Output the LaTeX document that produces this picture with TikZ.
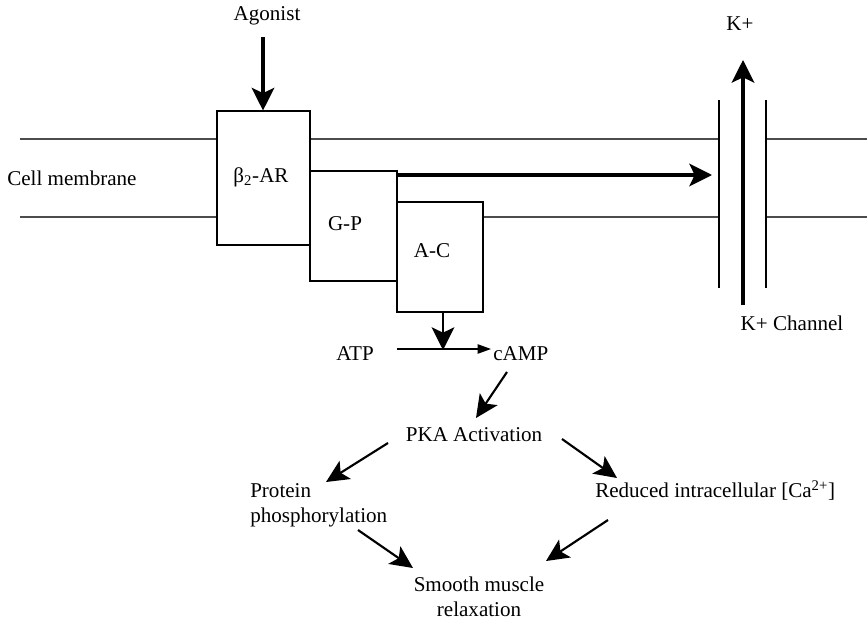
\documentclass[tikz,border=0pt]{standalone}
\usepackage{fontspec}
\setmainfont{Liberation Serif}
\usetikzlibrary{arrows.meta}
\begin{document}
\begin{tikzpicture}[x=0.75pt,y=-0.75pt,
  txt/.style={inner sep=0pt, font=\fontsize{15.8}{18.8}\selectfont},
  memb/.style={line width=0.8pt, black!70},
  boxx/.style={draw, fill=white, line width=0.8pt, inner sep=0pt},
  bigarr/.style={line width=2.3pt, -{Stealth[length=17pt, width=17pt, inset=4pt]}},
  midarr/.style={line width=1.6pt, -{Stealth[length=17pt, width=16pt, inset=4pt]}},
  thinarr/.style={line width=1pt, -{Triangle[length=10pt, width=7pt]}},
  chan/.style={line width=1pt}]
\useasboundingbox (0,0) rectangle (867,621);

% membrane lines
\coordinate (mtl) at (20,139);
\coordinate (mbl) at (20,217);
\coordinate (mtr) at (867,139);
\coordinate (mbr) at (867,217);
\coordinate (ctl) at (719,139);
\coordinate (cbl) at (719,217);
\coordinate (ctr) at (766,139);
\coordinate (cbr) at (766,217);
\draw[memb] (mtl) -- (ctl);
\draw[memb] (mbl) -- (cbl);
\draw[memb] (ctr) -- (mtr);
\draw[memb] (cbr) -- (mbr);

% boxes
\node[boxx, minimum width=93*0.75pt, minimum height=134*0.75pt] (ar) at (263.5,178) {};
\node[boxx, minimum width=87*0.75pt, minimum height=110*0.75pt] (gp) at (353.5,226) {};
\node[boxx, minimum width=86*0.75pt, minimum height=110*0.75pt] (ac) at (440,257) {};
\node[txt, anchor=base] (arl) at (261,182) {β\textsubscript{2}-AR};
\node[txt, anchor=base] (gpl) at (345,230) {G-P};
\node[txt, anchor=base] (acl) at (432,257) {A-C};

% channel
\coordinate (c1t) at (719,100); \coordinate (c1b) at (719,288);
\coordinate (c2t) at (766,100); \coordinate (c2b) at (766,288);
\draw[chan] (c1t) -- (c1b);
\draw[chan] (c2t) -- (c2b);

% labels
\node[txt, anchor=base] (ago) at (267,21) {Agonist};
\node[txt, anchor=base west] (cm) at (7,185) {Cell membrane};
\node[txt, anchor=base] (kp) at (740,30) {K+};
\node[txt, anchor=base] (kch) at (792,330) {K+ Channel};
\node[txt, anchor=base] (atp) at (355,360) {ATP};
\node[txt, anchor=base west] (camp) at (493,360) {cAMP};
\node[txt, anchor=base] (pka) at (474,441) {PKA Activation};
\node[txt, align=left, anchor=north west] (pp) at (250,483) {Protein\\phosphorylation};
\node[txt, anchor=base west] (red) at (595,497) {Reduced intracellular [Ca\textsuperscript{2+}]};
\node[txt, align=center, anchor=north] (smr) at (479,577) {Smooth muscle\\relaxation};

% arrows
\coordinate (agos) at (263,37);
\draw[bigarr] (agos) -- (ar.north -| agos);
\coordinate (kstart) at (743,305);
\coordinate (kend) at (743,60);
\draw[bigarr] (kstart) -- (kend);
\coordinate (gpa) at (397,175);
\coordinate (gpb) at (712,175);
\draw[bigarr] (gpa) -- (gpb);
\coordinate (acb) at (443,313);
\coordinate (act) at (443,350);
\draw[bigarr, line width=2pt] (ac.south -| acb) -- (act);
\coordinate (atpa) at (397,349);
\coordinate (atpb) at (491,349);
\draw[thinarr] (atpa) -- (atpb);
\coordinate (c1) at (507,372); \coordinate (c2) at (476,418);
\draw[midarr] (c1) -- (c2);
\coordinate (p1) at (388,443); \coordinate (p2) at (326,482);
\draw[midarr] (p1) -- (p2);
\coordinate (r1) at (562,439); \coordinate (r2) at (617,478);
\draw[midarr] (r1) -- (r2);
\coordinate (s1) at (358,530); \coordinate (s2) at (413,568);
\draw[midarr] (s1) -- (s2);
\coordinate (t1) at (608,520); \coordinate (t2) at (546,561);
\draw[midarr] (t1) -- (t2);
\end{tikzpicture}
\end{document}
